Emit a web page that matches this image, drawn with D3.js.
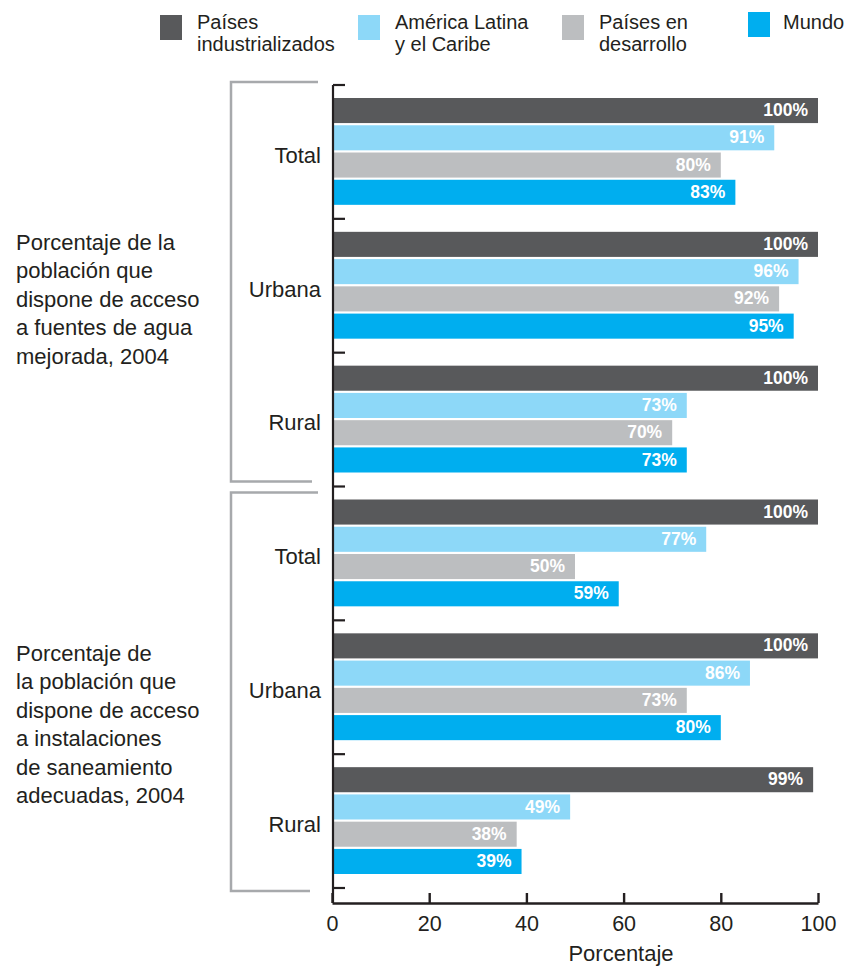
<!DOCTYPE html>
<html>
<head>
<meta charset="utf-8">
<script src="https://cdn.jsdelivr.net/npm/d3@7"></script>
<style>
  body { margin: 0; background: #fff; }
  svg { display: block; }
  text { font-family: "Liberation Sans", Arial, sans-serif; fill: #231f20; }
</style>
</head>
<body>
<svg id="chart" width="846" height="967"></svg>
<script>
const groups = ["Total", "Urbana", "Rural", "Total", "Urbana", "Rural"];
const seriesNames = ["Países industrializados", "América Latina y el Caribe", "Países en desarrollo", "Mundo"];
const legendLines = [["Países", "industrializados"], ["América Latina", "y el Caribe"], ["Países en", "desarrollo"], ["Mundo"]];
const industrializados = [100, 100, 100, 100, 100, 99];
const americaLatina = [91, 96, 73, 77, 86, 49];
const enDesarrollo = [80, 92, 70, 50, 73, 38];
const mundo = [83, 95, 73, 59, 80, 39];
const xTicks = [0, 20, 40, 60, 80, 100];
const sectionLabels = [
  ["Porcentaje de la", "población que", "dispone de acceso", "a fuentes de agua", "mejorada, 2004"],
  ["Porcentaje de", "la población que", "dispone de acceso", "a instalaciones", "de saneamiento", "adecuadas, 2004"]
];
const colors = ["#58595b", "#8dd8f8", "#bcbec0", "#00aeef"];

const values = [industrializados, americaLatina, enDesarrollo, mundo];
const svg = d3.select("#chart");

const x = d3.scaleLinear().domain([0, 100]).range([332, 818]);
const y = d3.scaleBand().domain(d3.range(groups.length)).range([85, 888]);
const yInner = d3.scaleBand().domain(d3.range(seriesNames.length))
  .range([13, y.bandwidth() - 14]).paddingInner(0.08);

// Bars
const g = svg.append("g");
groups.forEach((grp, gi) => {
  const gg = g.append("g").attr("transform", `translate(0,${y(gi)})`);
  values.forEach((arr, si) => {
    const v = arr[gi];
    gg.append("rect")
      .attr("x", x(0) + 2)
      .attr("y", yInner(si))
      .attr("width", x(v) - x(0) - 2)
      .attr("height", yInner.bandwidth())
      .attr("fill", colors[si]);
    gg.append("text")
      .attr("x", x(v) - 10)
      .attr("y", yInner(si) + yInner.bandwidth() / 2 + 1)
      .attr("text-anchor", "end")
      .attr("dominant-baseline", "middle")
      .style("fill", "#fff")
      .style("font-weight", "bold")
      .style("font-size", "17.5px")
      .text(v + "%");
  });
  svg.append("text")
    .attr("x", 321)
    .attr("y", y(gi) + y.bandwidth() / 2 + 5)
    .attr("text-anchor", "end")
    .attr("dominant-baseline", "middle")
    .style("font-size", "22px")
    .text(grp);
});

// Y axis line and boundary ticks
svg.append("line")
  .attr("x1", 333).attr("x2", 333)
  .attr("y1", y(0)).attr("y2", 903)
  .attr("stroke", "#231f20").attr("stroke-width", 2.2);
const bounds = d3.range(groups.length).map(i => y(i)).concat([y(groups.length - 1) + y.bandwidth()]);
svg.selectAll(".ytick").data(bounds).enter().append("line")
  .attr("x1", 333).attr("x2", 345)
  .attr("y1", d => d).attr("y2", d => d)
  .attr("stroke", "#231f20").attr("stroke-width", 2.2);

// X axis
const xAxis = d3.axisBottom(x).tickValues(xTicks).tickSize(-10).tickSizeOuter(0).tickPadding(13);
const ax = svg.append("g").attr("transform", "translate(0,903)").call(xAxis);
ax.select(".domain").attr("stroke", "#231f20").attr("stroke-width", 2.4);
ax.selectAll(".tick line").attr("stroke", "#231f20").attr("stroke-width", 2.4);
ax.selectAll(".tick text").style("font-size", "21.5px").style("font-family", '"Liberation Sans", Arial, sans-serif').attr("fill", "#231f20");

svg.append("text")
  .attr("x", 621).attr("y", 961)
  .attr("text-anchor", "middle")
  .style("font-size", "22px")
  .text("Porcentaje");

// Brackets
const brackets = [
  { top: y(0) - 3, bottom: y(2) + y.bandwidth() - 5, topEnd: 318, botEnd: 312, labels: sectionLabels[0], ly: 242 },
  { top: y(3) + 6, bottom: y(5) + y.bandwidth() + 3, topEnd: 318, botEnd: 310, labels: sectionLabels[1], ly: 653 }
];
brackets.forEach(b => {
  svg.append("path")
    .attr("d", `M${b.topEnd},${b.top}H231V${b.bottom}H${b.botEnd}`)
    .attr("fill", "none")
    .attr("stroke", "#a7a9ac")
    .attr("stroke-width", 2.5);
  b.labels.forEach((t, i) => {
    svg.append("text")
      .attr("x", 16)
      .attr("y", b.ly + i * 28.4 + 8)
      .style("font-size", "22px")
      .text(t);
  });
});

// Legend
const legendX = [160, 358, 562, 748];
legendLines.forEach((lines, i) => {
  const lg = svg.append("g");
  lg.append("rect")
    .attr("x", legendX[i]).attr("y", i === 3 ? 12 : 15)
    .attr("width", 22).attr("height", 25)
    .attr("fill", colors[i]);
  lines.forEach((t, j) => {
    lg.append("text")
      .attr("x", legendX[i] + (i === 3 ? 35 : 37))
      .attr("y", 29 + j * 22)
      .style("font-size", "20px")
      .text(t);
  });
});
</script>
</body>
</html>
